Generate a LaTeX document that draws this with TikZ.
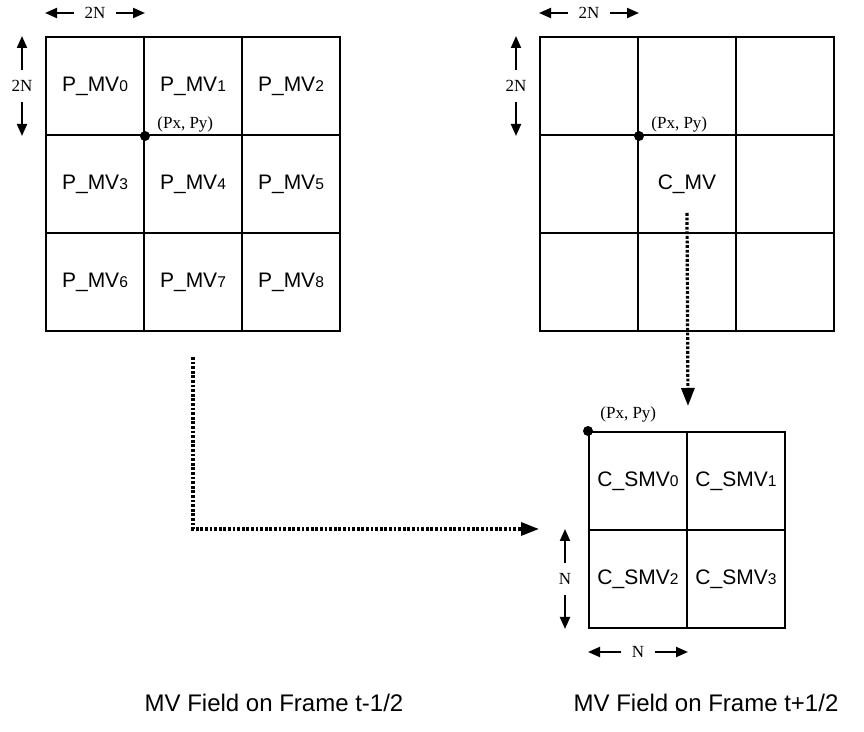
\documentclass[tikz,border=0pt]{standalone}
\usepackage{fontspec}
\setmainfont{Liberation Serif}
\setsansfont{Liberation Sans}
\usetikzlibrary{arrows.meta,positioning,calc}
\newcommand{\idx}[1]{{\fontsize{7.8}{8}\selectfont #1}}
\tikzset{
  cell/.style={draw, line width=1pt, minimum size=49pt, inner sep=0pt, font=\sffamily\fontsize{10.5}{12}\selectfont},
  dim/.style={font=\fontsize{8.5}{10}\selectfont, inner sep=5pt},
  dimarr/.style={-{Triangle[length=6pt,width=5pt]}, line width=1pt},
  darr/.style={-{Triangle[length=9pt,width=6.5pt]}, line width=1.6pt, dash pattern=on 1.4pt off 0.9pt},
  dot/.style={circle, fill, inner sep=0pt, minimum size=5pt},
  pxy/.style={font=\fontsize{8.5}{10}\selectfont, inner sep=1pt, anchor=south west},
  caption/.style={font=\sffamily\fontsize{12}{14}\selectfont, anchor=base}
}
\begin{document}
\begin{tikzpicture}[x=0.5pt, y=-0.5pt]
\useasboundingbox (0,0) rectangle (864,732);
% previous frame field
\node[cell] (l0) at (95,86) {P\_MV\idx{0}};
\node[cell] (l1) at (193,86) {P\_MV\idx{1}};
\node[cell] (l2) at (291,86) {P\_MV\idx{2}};
\node[cell] (l3) at (95,184) {P\_MV\idx{3}};
\node[cell] (l4) at (193,184) {P\_MV\idx{4}};
\node[cell] (l5) at (291,184) {P\_MV\idx{5}};
\node[cell] (l6) at (95,282) {P\_MV\idx{6}};
\node[cell] (l7) at (193,282) {P\_MV\idx{7}};
\node[cell] (l8) at (291,282) {P\_MV\idx{8}};
\node[dot] (lp) at (l0.south east) {};
\node[pxy] at ([xshift=5pt,yshift=0.5pt]lp.center) {(Px, Py)};
% current frame field
\node[cell] (r0) at (589,86) {};
\node[cell] (r1) at (687,86) {};
\node[cell] (r2) at (785,86) {};
\node[cell] (r3) at (589,184) {};
\node[cell] (r4) at (687,184) {C\_MV};
\node[cell] (r5) at (785,184) {};
\node[cell] (r6) at (589,282) {};
\node[cell] (r7) at (687,282) {};
\node[cell] (r8) at (785,282) {};
\node[dot] (rp) at (r0.south east) {};
\node[pxy] at ([xshift=5pt,yshift=0.5pt]rp.center) {(Px, Py)};
% sub-block motion vectors
\node[cell] (s0) at (638,481) {C\_SMV\idx{0}};
\node[cell] (s1) at (736,481) {C\_SMV\idx{1}};
\node[cell] (s2) at (638,579) {C\_SMV\idx{2}};
\node[cell] (s3) at (736,579) {C\_SMV\idx{3}};
\node[dot] (sp) at (s0.north west) {};
\node[pxy] at ([xshift=5pt,yshift=3pt]sp.center) {(Px, Py)};
% block sizes
\node[dim] (lw) at (95,13) {2N};
\draw[dimarr] (lw.west) -- (l0.west |- lw);
\draw[dimarr] (lw.east) -- (l0.east |- lw);
\node[dim] (lh) at (22,86) {2N};
\draw[dimarr] (lh.north) -- (lh |- l0.north);
\draw[dimarr] (lh.south) -- (lh |- l0.south);
\node[dim] (rw) at (589,13) {2N};
\draw[dimarr] (rw.west) -- (r0.west |- rw);
\draw[dimarr] (rw.east) -- (r0.east |- rw);
\node[dim] (rh) at (516,86) {2N};
\draw[dimarr] (rh.north) -- (rh |- r0.north);
\draw[dimarr] (rh.south) -- (rh |- r0.south);
\node[dim] (sw) at (638,652) {N};
\draw[dimarr] (sw.west) -- (s2.west |- sw);
\draw[dimarr] (sw.east) -- (s2.east |- sw);
\node[dim] (sh) at (565,579) {N};
\draw[dimarr] (sh.north) -- (sh |- s2.north);
\draw[dimarr] (sh.south) -- (sh |- s2.south);
% dotted connectors
\draw[darr] ([yshift=-12.5pt]l7.south) |- ([xshift=-24.5pt]s2.north west);
\draw[darr] ([yshift=-14.5pt]r4.center) -- ([yshift=12.5pt]s0.north east);
% captions
\node[caption] (lcap) at (274,712) {MV Field on Frame t-1/2};
\node[caption] (rcap) at (706,712) {MV Field on Frame t+1/2};
\end{tikzpicture}
\end{document}
